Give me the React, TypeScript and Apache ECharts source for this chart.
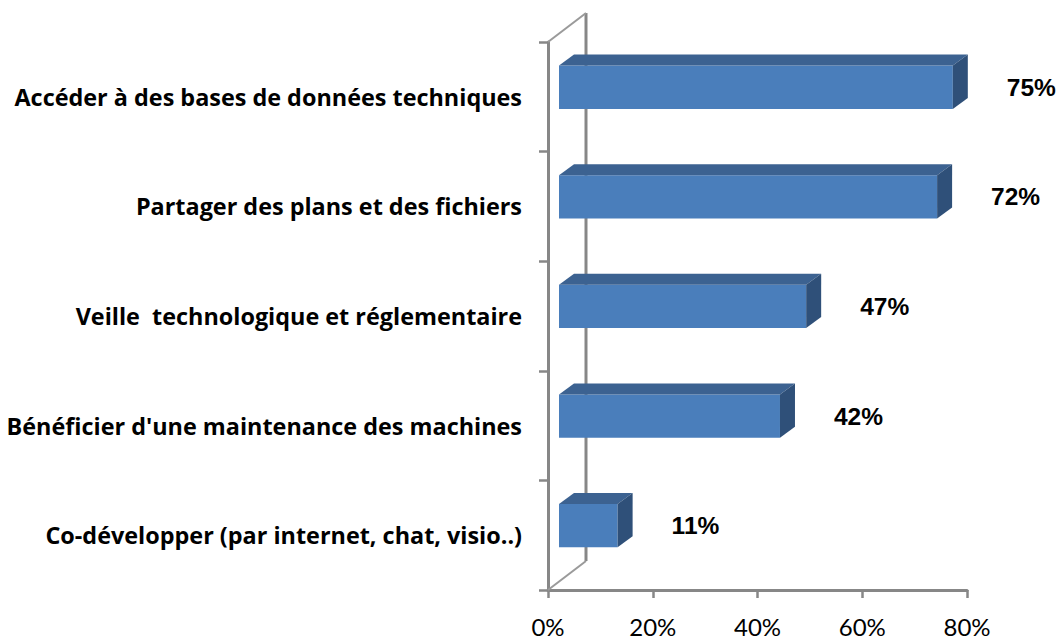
import React, { useEffect, useRef } from "react";
import * as echarts from "echarts";

const categories = [
  "Accéder à des bases de données techniques",
  "Partager des plans et des fichiers",
  "Veille  technologique et réglementaire",
  "Bénéficier d'une maintenance des machines",
  "Co-développer (par internet, chat, visio..)",
];
const values = [75, 72, 47, 42, 11];
const valueLabels = ["75%", "72%", "47%", "42%", "11%"];
const xMin = 0;
const xMax = 80;
const xInterval = 20;

const AXIS_GRAY = "#878787";

export default function App() {
  const ref = useRef<HTMLDivElement>(null);
  useEffect(() => {
    document.body.style.margin = "0";
    const chart = echarts.init(ref.current!, undefined, { renderer: "svg" });
    const n = categories.length;
    const option: any = {
      animation: false,
      backgroundColor: "#ffffff",
      grid: { left: 548, top: 42, width: 419, height: 548, containLabel: false },
      xAxis: {
        type: "value",
        min: xMin,
        max: xMax,
        interval: xInterval,
        splitLine: { show: false },
        axisLine: { show: true, lineStyle: { color: AXIS_GRAY, width: 3 } },
        axisTick: { show: true, length: 8, lineStyle: { color: AXIS_GRAY, width: 2.5 } },
        axisLabel: {
          margin: 24,
          formatter: "{value}%",
          fontFamily: "Lato",
          fontSize: 24,
          color: "#000",
        },
      },
      yAxis: {
        type: "category",
        inverse: true,
        data: categories,
        axisLine: { show: true, lineStyle: { color: AXIS_GRAY, width: 3 } },
        axisTick: { show: true, length: 9, lineStyle: { color: AXIS_GRAY, width: 2.5 } },
        splitLine: { show: false },
        axisLabel: {
          margin: 26,
          fontFamily: "Open Sans",
          fontWeight: "bold",
          fontSize: 23.4,
          color: "#000",
        },
      },
      series: [
        {
          type: "custom",
          z: 1,
          silent: true,
          data: [[0, 0]],
          encode: { x: 0, y: 1 },
          renderItem: (params: any, api: any) => {
            const band = api.size([0, 1])[1];
            const top = api.coord([xMin, 0]);
            const bot = api.coord([xMin, n - 1]);
            const x0 = top[0];
            const ty = top[1] - band / 2;
            const by = bot[1] + band / 2;
            const dx = 38;
            const dy = 29;
            return {
              type: "group",
              children: [
                {
                  type: "line",
                  shape: { x1: x0 + dx, y1: ty - dy, x2: x0 + dx, y2: by - dy },
                  style: { stroke: AXIS_GRAY, lineWidth: 3 },
                },
                {
                  type: "line",
                  shape: { x1: x0, y1: ty, x2: x0 + dx, y2: ty - dy },
                  style: { stroke: "#9a9a9a", lineWidth: 2 },
                },
                {
                  type: "line",
                  shape: { x1: x0, y1: by, x2: x0 + dx, y2: by - dy },
                  style: { stroke: "#9a9a9a", lineWidth: 2 },
                },
              ],
            };
          },
        },
        {
          type: "custom",
          z: 3,
          data: values.map((v, i) => [v, i]),
          encode: { x: 0, y: 1 },
          renderItem: (params: any, api: any) => {
            const v = api.value(0);
            const idx = api.value(1);
            const s = api.coord([xMin, idx]);
            const e = api.coord([v, idx]);
            const band = api.size([0, 1])[1];
            const h = band * 0.395;
            const cy = s[1] - band * 0.087;
            const ox = 12;
            const dx = 15;
            const dy = 11;
            const x0 = s[0] + ox - 1;
            const x1 = e[0] + ox;
            const y0 = cy - h / 2;
            const y1 = cy + h / 2;
            return {
              type: "group",
              children: [
                {
                  type: "rect",
                  shape: { x: x0, y: y0, width: x1 - x0, height: h },
                  style: { fill: "#4A7EBB" },
                },
                {
                  type: "polygon",
                  shape: { points: [[x0, y0], [x0 + dx, y0 - dy], [x1 + dx, y0 - dy], [x1, y0]] },
                  style: { fill: "#3C6291" },
                },
                {
                  type: "polygon",
                  shape: { points: [[x1, y0], [x1 + dx, y0 - dy], [x1 + dx, y1 - dy], [x1, y1]] },
                  style: { fill: "#2F5079" },
                },
                {
                  type: "text",
                  style: {
                    text: valueLabels[params.dataIndex],
                    x: x1 + dx + 39,
                    y: cy,
                    align: "left",
                    verticalAlign: "middle",
                    fontFamily: "Liberation Sans",
                    fontWeight: "bold",
                    fontSize: 24.5,
                    fill: "#000",
                  },
                },
              ],
            };
          },
        },
      ],
    };
    chart.setOption(option);
    return () => chart.dispose();
  }, []);
  return <div ref={ref} style={{ width: 1064, height: 643 }} />;
}
